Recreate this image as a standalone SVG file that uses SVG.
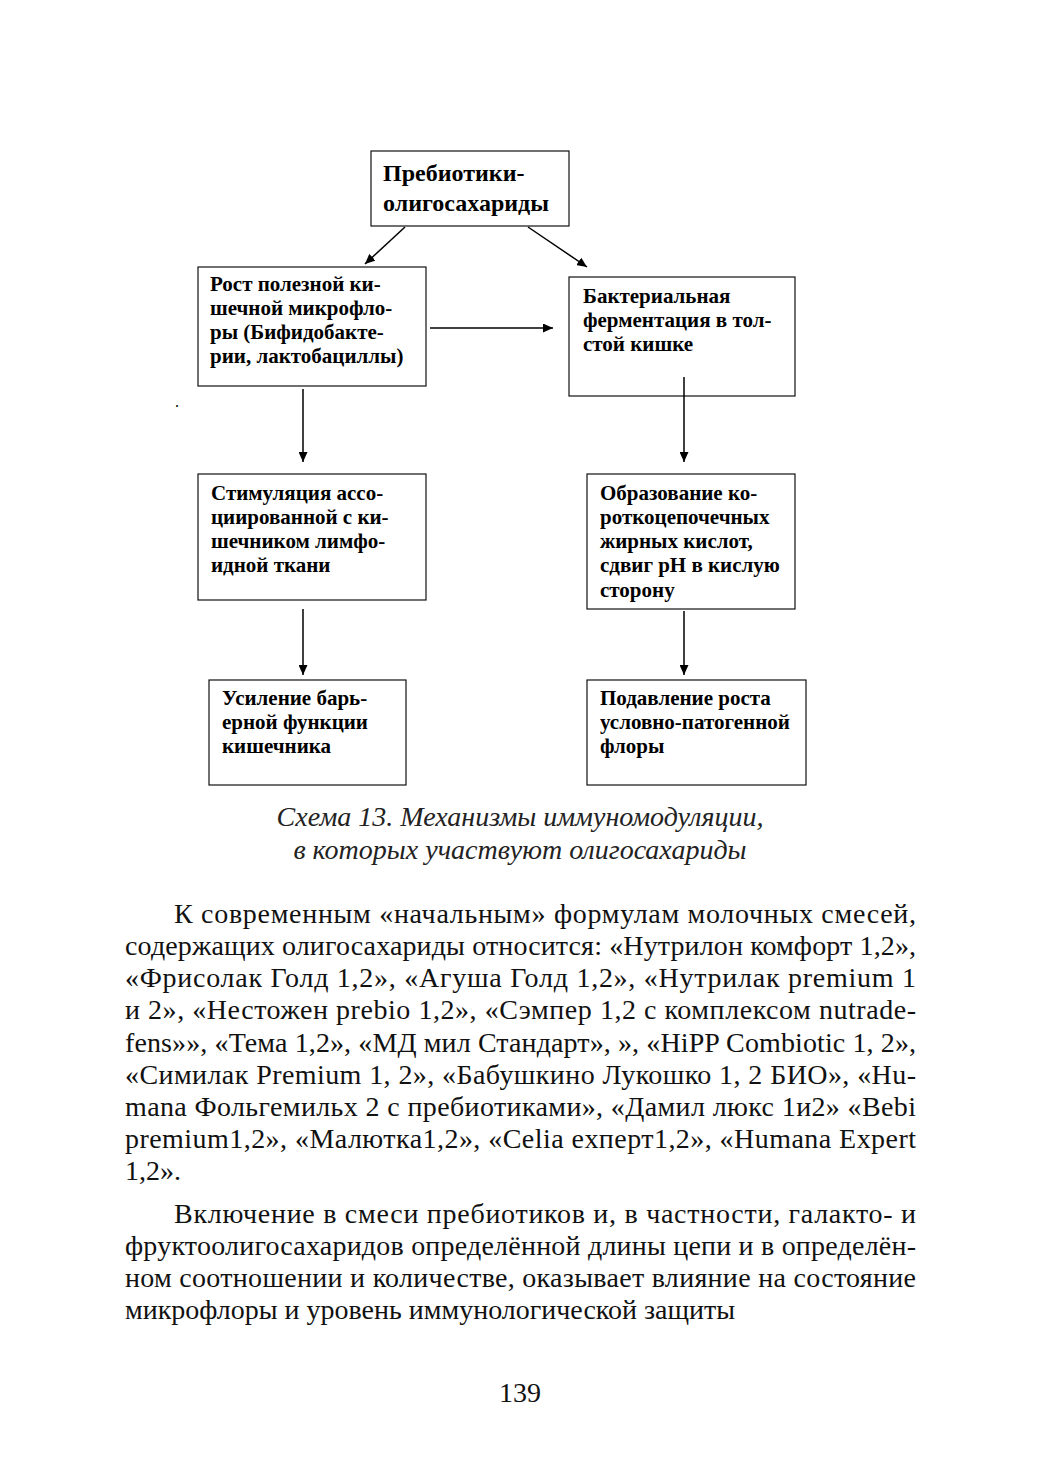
<svg xmlns="http://www.w3.org/2000/svg" width="1039" height="1471" viewBox="0 0 1039 1471">
<style>
.box{fill:none;stroke:#111;stroke-width:1.2}
.bt{font-family:"Liberation Serif",serif;font-weight:bold;font-size:21px;fill:#000}
.tt{font-family:"Liberation Serif",serif;font-weight:bold;font-size:24px;fill:#000}
.cap{font-family:"Liberation Serif",serif;font-style:italic;font-size:28px;fill:#222}
.body{font-family:"Liberation Serif",serif;font-size:28px;fill:#111}
.con{stroke:#000;stroke-width:1.5;fill:none;marker-end:url(#ah)}
</style>
<defs>
<marker id="ah" viewBox="0 0 10 9" refX="10" refY="4.5" markerWidth="10" markerHeight="9" orient="auto" markerUnits="userSpaceOnUse">
<path d="M0,0 L10,4.5 L0,9 z" fill="#000"/>
</marker>
</defs>
<rect width="1039" height="1471" fill="#fff"/>
<g id="n0"><rect class="box" x="371" y="151" width="198" height="75"/>
<text class="tt" x="383" y="181">Пребиотики-</text>
<text class="tt" x="383" y="211">олигосахариды</text></g>
<g id="n1"><rect class="box" x="198" y="267" width="228" height="119"/>
<text class="bt" x="210" y="291">Рост полезной ки-</text>
<text class="bt" x="210" y="315">шечной микрофло-</text>
<text class="bt" x="210" y="339">ры (Бифидобакте-</text>
<text class="bt" x="210" y="363">рии, лактобациллы)</text></g>
<g id="n2"><rect class="box" x="569" y="277" width="226" height="119"/>
<text class="bt" x="583" y="303">Бактериальная</text>
<text class="bt" x="583" y="327">ферментация в тол-</text>
<text class="bt" x="583" y="351">стой кишке</text></g>
<g id="n3"><rect class="box" x="198" y="474" width="228" height="126"/>
<text class="bt" x="211" y="500">Стимуляция ассо-</text>
<text class="bt" x="211" y="524">циированной с ки-</text>
<text class="bt" x="211" y="548">шечником лимфо-</text>
<text class="bt" x="211" y="572">идной ткани</text></g>
<g id="n4"><rect class="box" x="587" y="474" width="208" height="135"/>
<text class="bt" x="600" y="500">Образование ко-</text>
<text class="bt" x="600" y="524">роткоцепочечных</text>
<text class="bt" x="600" y="548">жирных кислот,</text>
<text class="bt" x="600" y="572">сдвиг pH в кислую</text>
<text class="bt" x="600" y="597">сторону</text></g>
<g id="n5"><rect class="box" x="209" y="680" width="197" height="105"/>
<text class="bt" x="222" y="705">Усиление барь-</text>
<text class="bt" x="222" y="729">ерной функции</text>
<text class="bt" x="222" y="753">кишечника</text></g>
<g id="n6"><rect class="box" x="587" y="680" width="219" height="105"/>
<text class="bt" x="600" y="705">Подавление роста</text>
<text class="bt" x="600" y="729">условно-патогенной</text>
<text class="bt" x="600" y="753">флоры</text></g>
<g id="connectors">
<line class="con" x1="405" y1="227" x2="365" y2="264"/>
<line class="con" x1="528" y1="227" x2="587" y2="267"/>
<line class="con" x1="430" y1="328" x2="553" y2="328"/>
<line class="con" x1="303" y1="389" x2="303" y2="462"/>
<line class="con" x1="684" y1="377" x2="684" y2="462"/>
<line class="con" x1="303" y1="609" x2="303" y2="675"/>
<line class="con" x1="684" y1="611" x2="684" y2="675"/>
</g>
<text x="175" y="407" style="font-family:'Liberation Serif',serif;font-size:16px">.</text>
<text class="cap" x="520" y="826" text-anchor="middle">Схема 13. Механизмы иммуномодуляции,</text>
<text class="cap" x="520" y="859" text-anchor="middle">в которых участвуют олигосахариды</text>
<g class="body">
<text x="174" y="923" textLength="742" lengthAdjust="spacing">К современным «начальным» формулам молочных смесей,</text>
<text x="125" y="955" textLength="791" lengthAdjust="spacing">содержащих олигосахариды относится: «Нутрилон комфорт 1,2»,</text>
<text x="125" y="987" textLength="791" lengthAdjust="spacing">«Фрисолак Голд 1,2», «Агуша Голд 1,2», «Нутрилак premium 1</text>
<text x="125" y="1019" textLength="791" lengthAdjust="spacing">и 2»,  «Нестожен prebio 1,2», «Сэмпер 1,2 с комплексом nutrade-</text>
<text x="125" y="1052" textLength="791" lengthAdjust="spacing">fens»», «Тема 1,2», «МД мил Стандарт», », «HiPP Combiotic 1, 2»,</text>
<text x="125" y="1084" textLength="791" lengthAdjust="spacing">«Симилак Premium 1, 2»,  «Бабушкино Лукошко 1, 2 БИО», «Hu-</text>
<text x="125" y="1116" textLength="791" lengthAdjust="spacing">mana Фольгемильх 2 с пребиотиками», «Дамил люкс 1и2» «Bebi</text>
<text x="125" y="1148" textLength="791" lengthAdjust="spacing">premium1,2», «Малютка1,2», «Celia exперт1,2»,  «Humana Expert</text>
<text x="125" y="1180">1,2».</text>
<text x="174" y="1223" textLength="742" lengthAdjust="spacing">Включение в смеси пребиотиков и, в частности, галакто- и</text>
<text x="125" y="1255" textLength="791" lengthAdjust="spacing">фруктоолигосахаридов определённой длины цепи и в определён-</text>
<text x="125" y="1287" textLength="791" lengthAdjust="spacing">ном соотношении и количестве, оказывает влияние на состояние</text>
<text x="125" y="1319">микрофлоры и уровень иммунологической защиты</text>
<text x="520" y="1402" text-anchor="middle">139</text>
</g>
</svg>
